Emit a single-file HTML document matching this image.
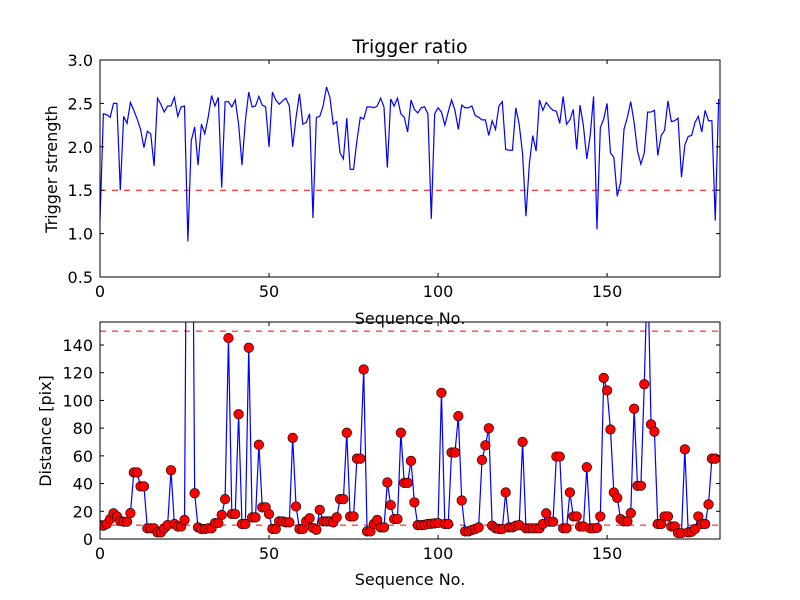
<!DOCTYPE html>
<html><head><meta charset="utf-8"><style>
body{margin:0;background:#fff}
svg{display:block;font-family:"DejaVu Sans","Liberation Sans",sans-serif}
</style></head><body>
<svg id="c" width="800" height="600"></svg>
<script>
const strength=[1.15,2.38,2.37,2.34,2.5,2.5,1.5,2.35,2.27,2.51,2.42,2.32,2.2,1.99,2.18,2.15,1.78,2.56,2.49,2.4,2.47,2.47,2.57,2.35,2.46,2.47,0.91,2.07,2.23,1.79,2.26,2.15,2.34,2.59,2.47,2.57,1.53,2.52,2.52,2.46,2.54,2.26,1.79,2.3,2.63,2.46,2.47,2.58,2.48,2.46,2.0,2.63,2.54,2.49,2.53,2.56,2.47,2.0,2.34,2.61,2.26,2.28,2.38,1.18,2.34,2.35,2.47,2.69,2.57,2.26,2.29,1.93,1.86,2.33,1.74,1.74,2.07,2.34,2.32,2.46,2.46,2.45,2.47,2.56,2.46,1.76,2.55,2.47,2.56,2.38,2.34,2.17,2.54,2.43,2.39,2.45,2.46,2.38,1.17,2.38,2.45,2.4,2.25,2.4,2.54,2.42,2.2,2.48,2.45,2.45,2.47,2.36,2.34,2.31,2.31,2.13,2.3,2.2,2.47,2.52,1.97,1.96,1.96,2.45,2.26,1.92,1.2,1.8,2.13,1.95,2.54,2.42,2.51,2.46,2.42,2.41,2.27,2.58,2.26,2.31,2.43,1.97,2.48,2.24,1.86,2.13,2.58,1.05,2.22,2.32,2.5,1.93,1.88,1.43,1.59,2.2,2.34,2.52,2.28,1.95,1.8,1.93,2.4,2.4,2.42,1.9,2.13,2.19,2.53,2.29,2.3,2.33,1.65,2.02,2.12,2.13,2.28,2.35,2.17,2.42,2.3,2.3,1.15,2.55];
const distance=[10,9.6,10.8,14.4,18.5,16.3,13,12.5,12.5,18.7,48,48,38,38,7.7,7.7,7.7,4.8,4.8,7.7,10,49.6,10.8,9,9,13.7,400,400,33,8.4,7.2,7.2,7.7,7.7,11.5,11.5,17.3,28.8,145,18,18,90,10.8,10.8,138,15.6,15.6,68,22.8,22.8,18,7.2,7.2,12.7,12.7,12,12,73,23.5,7.2,7.2,12.7,15,8,6.7,21,12.7,12.7,12.7,12,15.6,28.8,28.8,76.7,16.3,16.3,58,58,122.3,5.5,5.5,10.8,13.7,8.4,8.4,40.8,24.5,14.4,14.4,76.7,40.5,40.5,56.4,26.4,10,10,10.3,10.8,11,11.3,11.5,105.5,10.8,10.8,62.4,62.4,88.7,27.8,5.5,5.5,6.5,7.2,8.4,57,67.6,79.9,9.6,7.7,7.2,7.2,33.6,8.4,8.4,9.6,10,70,7.7,7.7,7.7,7.7,7.7,10.8,18.5,12.5,12.5,59.5,59.5,7.7,7.7,33.6,16.3,16.3,9,9,51.8,7.7,7.7,8,16.3,116.3,107.2,79,33.6,29.7,14.4,12.7,12.7,18.7,94,38.4,38.4,111.7,200,82.7,77.5,10.8,10.8,16.3,16.3,9,9,4.3,4.3,64.7,4.8,5.3,7.2,16.3,10.8,10.8,25,58,58];
const xTicks=[0,50,100,150];
const yTicksTop=[0.5,1.0,1.5,2.0,2.5,3.0];
const yTicksBot=[0,20,40,60,80,100,120,140];
const thrTop=[1.5];
const thrBot=[10,150];

const NS='http://www.w3.org/2000/svg';
const svg=document.getElementById('c');
function el(t,a,p){const e=document.createElementNS(NS,t);for(const k in a)e.setAttribute(k,a[k]);(p||svg).appendChild(e);return e;}
const L=100,R=720,XMAX=183.4;
const sx=v=>L+(R-L)*v/XMAX;
function panel(name,T,B,ymin,ymax,yt,fmt){
  const sy=v=>B-(B-T)*(v-ymin)/(ymax-ymin);
  const g=el('g',{});
  
  
  const cid='clip-'+name;
  const cp=el('clipPath',{id:cid},g);el('rect',{x:L,y:T,width:R-L,height:B-T},cp);
  const plot=el('g',{'clip-path':'url(#'+cid+')'},g);
  xTicks.forEach(v=>{
    el('line',{x1:sx(v),x2:sx(v),y1:B,y2:B-4,stroke:'#000'},g);
    el('line',{x1:sx(v),x2:sx(v),y1:T,y2:T+4,stroke:'#000'},g);
    const t=el('text',{x:sx(v),y:B+20,'font-size':16,'text-anchor':'middle'},g);t.textContent=v;
    
    
  });
  yt.forEach(v=>{
    el('line',{x1:L,x2:L+4,y1:sy(v),y2:sy(v),stroke:'#000'},g);
    el('line',{x1:R,x2:R-4,y1:sy(v),y2:sy(v),stroke:'#000'},g);
    const t=el('text',{x:L-7,y:sy(v)+6,'font-size':16,'text-anchor':'end'},g);t.textContent=fmt(v);
    
    
  });
  return {sy,plot,g};
}
// Top
const topP=panel('strength-panel',60,277,0.5,3.0,yTicksTop,v=>v.toFixed(1));
thrTop.forEach(v=>{const l=el('line',{x1:L,x2:R,y1:topP.sy(v),y2:topP.sy(v),stroke:'#f00','stroke-dasharray':'6,6'},topP.plot);
});
const p1=el('polyline',{fill:'none',stroke:'#00f','stroke-width':1.2,points:strength.map((v,i)=>sx(i)+','+topP.sy(v)).join(' ')},topP.plot);


el('rect',{x:L,y:60,width:R-L,height:217,fill:'none',stroke:'#000'},topP.g);
// Bottom
const botP=panel('distance-panel',322,539,0,156.6,yTicksBot,v=>v);
thrBot.forEach(v=>{const l=el('line',{x1:L,x2:R,y1:botP.sy(v),y2:botP.sy(v),stroke:'#f00','stroke-dasharray':'6,6'},botP.plot);
});
const p2=el('polyline',{fill:'none',stroke:'#00f','stroke-width':1.2,points:distance.map((v,i)=>sx(i)+','+botP.sy(v)).join(' ')},botP.plot);


distance.forEach((v,i)=>{const c=el('circle',{cx:sx(i),cy:botP.sy(v),r:4.8,fill:'#f00',stroke:'#000','stroke-width':0.6},botP.plot);

});
el('rect',{x:L,y:322,width:R-L,height:217,fill:'none',stroke:'#000'},botP.g);
// Labels
function txt(s,a,name){const t=el('text',a);t.textContent=s;}
txt('Trigger ratio',{x:410,y:53,'font-size':19,'text-anchor':'middle'},'chart-title');
txt('Sequence No.',{x:410,y:324,'font-size':16,'text-anchor':'middle'},'top-x-axis-title');
txt('Sequence No.',{x:410,y:585,'font-size':16,'text-anchor':'middle'},'bottom-x-axis-title');
txt('Trigger strength',{x:57,y:169,'font-size':16,'text-anchor':'middle',transform:'rotate(-90 57 169)'},'top-y-axis-title');
txt('Distance [pix]',{x:51,y:431,'font-size':16,'text-anchor':'middle',transform:'rotate(-90 51 431)'},'bottom-y-axis-title');
</script>
</body></html>
